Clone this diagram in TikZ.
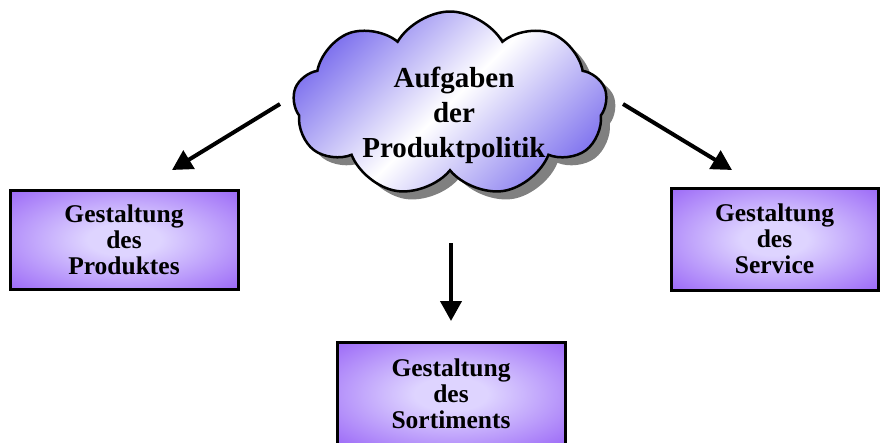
\documentclass[tikz,border=0pt]{standalone}
\usepackage{fontspec}
\setmainfont{Liberation Serif}
\usetikzlibrary{shapes.symbols,shadows,arrows.meta}
\definecolor{boxviolet}{RGB}{140,80,245}
\definecolor{boxlight}{RGB}{222,212,255}
\definecolor{cloudviolet}{RGB}{112,98,236}
\pgfdeclarehorizontalshading{cloudshade}{100bp}{color(0bp)=(cloudviolet); color(22bp)=(cloudviolet); color(50bp)=(white); color(80bp)=(cloudviolet); color(100bp)=(cloudviolet)}
\pgfdeclareradialshading{boxshade}{\pgfpoint{0bp}{0bp}}{color(0bp)=(boxlight); color(8bp)=(boxlight); color(42bp)=(boxviolet); color(71bp)=(boxviolet)}
\begin{document}
\begin{tikzpicture}[x=1pt,y=-1pt,
	box_node/.style={rectangle,draw=black,line width=3pt,shading=boxshade,align=center,font=\bfseries\fontsize{25.5}{26}\selectfont},
	cloud_node/.style={cloud,cloud puffs=9,cloud puff arc=120,draw=black,line width=2.5pt,shading=cloudshade,shading angle=-45,drop shadow={shadow xshift=9pt,shadow yshift=-8pt,fill=black!50,opacity=1}},
	text_node/.style={align=center,font=\bfseries\fontsize{29}{35}\selectfont},
	arrow_line/.style={line width=4pt,-{Triangle[length=20pt,width=21pt]}}]
		
		\useasboundingbox (0,0) rectangle (880,442);
		\clip (0,0) rectangle (880,442);
		
		\node[cloud_node,minimum width=314pt,minimum height=185pt] (cloud) at (450,104) {};
		\node[text_node] (title) at (454,115) {Aufgaben\\der\\Produktpolitik};
		
		\node[box_node,minimum width=228pt,minimum height=99pt] (produkt) at (124,239.5) {Gestaltung\\des\\Produktes};
		\node[box_node,minimum width=207pt,minimum height=102pt] (service) at (774.5,239) {Gestaltung\\des\\Service};
		\node[box_node,minimum width=228pt,minimum height=104pt] (sortiment) at (451,394) {Gestaltung\\des\\Sortiments};
		
		\coordinate (l_start) at (280,104);
		\coordinate (l_end) at (172,170);
		\coordinate (r_start) at (623,104);
		\coordinate (r_end) at (732,170);
		\coordinate (d_start) at (451,243);
		\coordinate (d_end) at (451,321);
		
		\draw[arrow_line] (l_start) -- (l_end);
		\draw[arrow_line] (r_start) -- (r_end);
		\draw[arrow_line] (d_start) -- (d_end);
		\end{tikzpicture}
\end{document}
